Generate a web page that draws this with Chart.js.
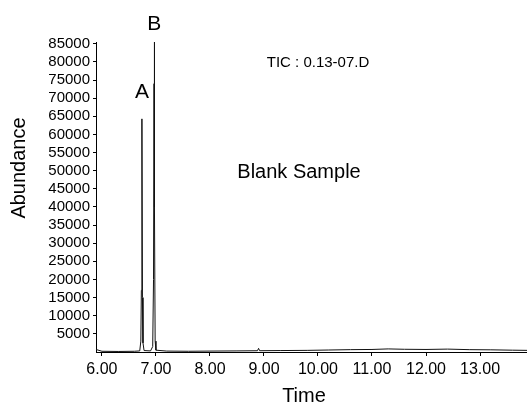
<!DOCTYPE html>
<html>
<head>
<meta charset="utf-8">
<script src="https://cdn.jsdelivr.net/npm/chart.js@4/dist/chart.umd.min.js"></script>
<style>
html,body{margin:0;padding:0;background:#fff;}
#wrap{width:527px;height:405px;}
</style>
</head>
<body>
<div id="wrap"><canvas id="c" width="527" height="405"></canvas></div>
<script>
// Retention time (min) and abundance
const times = [5.89, 6.0, 6.3, 6.6, 6.70, 6.72, 6.73, 6.74, 6.75, 6.76, 6.78, 6.90, 6.94, 6.955, 6.965, 6.97, 6.975, 6.985, 7.00, 7.2, 7.6, 8.0, 8.5, 8.88, 8.9, 8.92, 9.3, 9.8, 10.2, 10.6, 11.0, 11.3, 11.6, 12.0, 12.4, 12.8, 13.2, 13.6, 13.87];
const abundance = [700, 200, 150, 200, 300, 3000, 17000, 64300, 15000, 2500, 400, 300, 1500, 20000, 74000, 85500, 40000, 3000, 500, 250, 200, 250, 300, 350, 1000, 350, 400, 450, 550, 650, 700, 850, 750, 700, 800, 650, 600, 500, 450];
const xTicks = [6, 7, 8, 9, 10, 11, 12, 13];
const yTicks = [5000, 10000, 15000, 20000, 25000, 30000, 35000, 40000, 45000, 50000, 55000, 60000, 65000, 70000, 75000, 80000, 85000];
const peakLabels = [{text: 'A', x: 6.74, y: 71700}, {text: 'B', x: 6.97, y: 90500}];
const xTitle = 'Time';
const yTitle = 'Abundance';

const FONT = '"Liberation Sans", Arial, sans-serif';
const points = times.map((t, i) => ({x: t, y: abundance[i]}));

const textPlugin = {
  id: 'texts',
  afterDraw(chart) {
    const ctx = chart.ctx;
    const xs = chart.scales.x, ys = chart.scales.y;
    ctx.save();
    ctx.fillStyle = '#000';
    ctx.textAlign = 'center';
    ctx.textBaseline = 'middle';
    ctx.font = '21px ' + FONT;
    peakLabels.forEach(p => {
      ctx.fillText(p.text, xs.getPixelForValue(p.x), ys.getPixelForValue(p.y));
    });
    ctx.font = '15px ' + FONT;
    ctx.fillText('TIC : 0.13-07.D', 318, 63);
    ctx.font = '20px ' + FONT;
    ctx.fillText('Blank Sample', 299, 172);
    ctx.fillText(xTitle, 304, 396);
    ctx.translate(19, 168);
    ctx.rotate(-Math.PI / 2);
    ctx.fillText(yTitle, 0, 0);
    ctx.restore();
  }
};

new Chart(document.getElementById('c'), {
  type: 'scatter',
  data: {
    datasets: [{
      data: points,
      showLine: true,
      borderColor: '#111',
      borderWidth: 1,
      pointRadius: 0,
      tension: 0
    }]
  },
  options: {
    responsive: false,
    animation: false,
    layout: {padding: {top: 42, right: 0, left: 0, bottom: 0}},
    plugins: {legend: {display: false}, tooltip: {enabled: false}},
    scales: {
      x: {
        type: 'linear',
        min: 5.89,
        max: 13.87,
        afterBuildTicks(s) { s.ticks = xTicks.map(v => ({value: v})); },
        afterFit(s) { s.height = 53; },
        grid: {display: true, drawOnChartArea: false, drawTicks: true, tickLength: 4, color: '#000'},
        border: {display: true, color: '#000', width: 1},
        ticks: {
          color: '#000',
          font: {family: FONT, size: 16},
          padding: 4,
          maxRotation: 0,
          autoSkip: false,
          callback: v => Number(v).toFixed(2)
        }
      },
      y: {
        min: 0,
        max: 85500,
        afterBuildTicks(s) { s.ticks = yTicks.map(v => ({value: v})); },
        afterFit(s) { s.width = 96; },
        grid: {display: true, drawOnChartArea: false, drawTicks: true, tickLength: 3, color: '#000'},
        border: {display: true, color: '#000', width: 1},
        ticks: {
          color: '#000',
          font: {family: FONT, size: 15},
          padding: 3,
          autoSkip: false,
          callback: v => String(v)
        }
      }
    }
  },
  plugins: [textPlugin]
});
</script>
</body>
</html>
